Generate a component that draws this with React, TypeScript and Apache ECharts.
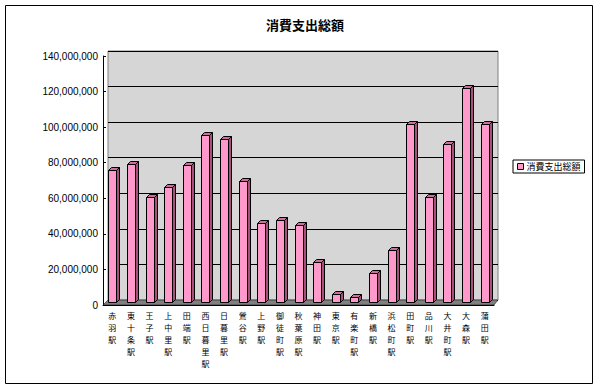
import React, { useEffect, useRef } from "react";
import * as echarts from "echarts";

const title = "消費支出総額";
const seriesName = "消費支出総額";
const categories = [
  "赤羽駅", "東十条駅", "王子駅", "上中里駅", "田端駅", "西日暮里駅", "日暮里駅",
  "鶯谷駅", "上野駅", "御徒町駅", "秋葉原駅", "神田駅", "東京駅", "有楽町駅",
  "新橋駅", "浜松町駅", "田町駅", "品川駅", "大井町駅", "大森駅", "蒲田駅",
];
const values = [
  76000000, 79000000, 60500000, 66500000, 78500000, 95500000, 93500000,
  69500000, 46000000, 48000000, 45000000, 24000000, 6000000, 4500000,
  18000000, 31000000, 102000000, 60500000, 90500000, 122000000, 102000000,
];
const yMin = 0;
const yMax = 140000000;
const yStep = 20000000;

export default function App() {
  const ref = useRef<HTMLDivElement>(null);
  useEffect(() => {
    if (!ref.current) return;
    const chart = echarts.init(ref.current, null, { renderer: "svg" });

    const front = "#ff99cc";
    const side = "#a8507c";
    const topc = "#cc6f9c";
    const w = 8;
    const d = 3;

    const fmt = (v: number) => v.toLocaleString("en-US");

    chart.setOption({
      animation: false,
      backgroundColor: "#ffffff",
      title: {
        text: title,
        left: 300,
        textAlign: "center",
        top: 13,
        textStyle: { fontSize: 13, fontWeight: "bold", color: "#000", fontFamily: "Noto Sans CJK JP" },
      },
      legend: {
        left: 513,
        top: 160,
        orient: "vertical",
        borderColor: "#000",
        borderWidth: 1,
        padding: [2, 4, 2, 4],
        itemWidth: 6,
        itemHeight: 6,
        itemGap: 2,
        textStyle: { fontSize: 9, color: "#000", fontFamily: "Noto Sans CJK JP", padding: [0, 0, 0, -2] },
        data: [{ name: seriesName, icon: "rect", itemStyle: { color: front, borderColor: "#000", borderWidth: 1 } }],
      },
      graphic: [
        {
          type: "rect",
          shape: { x: 5.5, y: 5.5, width: 587, height: 378 },
          style: { fill: "none", stroke: "#000", lineWidth: 1 },
          z: 100,
        },
        {
          type: "polygon",
          shape: { points: [[103, 305], [494, 305], [498, 300], [108, 300]] },
          style: { fill: "#808080", stroke: "#000", lineWidth: 0.5 },
          z: 1,
        },
      ],
      grid: [
        { left: 103, right: 105, top: 56, bottom: 83 },
        {
          left: 108, right: 101, top: 51, bottom: 88, show: true,
          backgroundColor: "#d6d6d6", borderColor: "#808080", borderWidth: 1,
        },
      ],
      xAxis: [
        {
          type: "category",
          gridIndex: 0,
          data: categories,
          axisLine: { show: true, lineStyle: { color: "#000", width: 1 } },
          axisTick: { show: false },
          axisLabel: {
            interval: 0,
            rotate: 0,
            margin: 4,
            color: "#000",
            fontSize: 8,
            lineHeight: 12,
            fontFamily: "Noto Sans CJK JP",
            formatter: (s: string) => s.split("").join("\n"),
          },
          z: 3,
        },
        {
          type: "category",
          gridIndex: 1,
          data: categories,
          show: false,
        },
      ],
      yAxis: [
        {
          type: "value",
          gridIndex: 0,
          min: yMin,
          max: yMax,
          interval: yStep,
          axisLine: { show: true, lineStyle: { color: "#000", width: 1 } },
          axisTick: { show: true, length: 3, inside: true, lineStyle: { color: "#000" } },
          splitLine: { show: false },
          axisLabel: {
            color: "#000",
            fontSize: 10,
            margin: 5,
            fontFamily: "Liberation Sans",
            formatter: (v: number) => fmt(v),
          },
        },
        {
          type: "value",
          gridIndex: 1,
          min: yMin,
          max: yMax,
          interval: yStep,
          axisLine: { show: false },
          axisTick: { show: false },
          axisLabel: { show: false },
          splitLine: { show: true, lineStyle: { color: "#000", width: 1 } },
        },
      ],
      series: [
        {
          type: "custom",
          name: seriesName,
          xAxisIndex: 0,
          yAxisIndex: 0,
          itemStyle: { color: front },
          encode: { x: 0, y: 1 },
          data: categories.map((c, i) => [i, values[i]]),
          z: 5,
          renderItem: (params: any, api: any) => {
            const idx = api.value(0);
            const v = api.value(1);
            const t = api.coord([idx, v]);
            const b = api.coord([idx, 0]);
            const x0 = Math.round(t[0] - w / 2) + 0.5;
            const x1 = x0 + w;
            const ty = Math.round(t[1]) + 0.5;
            const by = Math.round(b[1]) - 2.5;
            return {
              type: "group",
              children: [
                {
                  type: "polygon",
                  shape: { points: [[x1, ty], [x1 + d, ty - d], [x1 + d, by - d], [x1, by]] },
                  style: { fill: side, stroke: "#000", lineWidth: 1 },
                },
                {
                  type: "polygon",
                  shape: { points: [[x0, ty], [x0 + d, ty - d], [x1 + d, ty - d], [x1, ty]] },
                  style: { fill: topc, stroke: "#000", lineWidth: 1 },
                },
                {
                  type: "rect",
                  shape: { x: x0, y: ty, width: w, height: by - ty },
                  style: { fill: front, stroke: "#000", lineWidth: 1 },
                },
              ],
            };
          },
        },
      ],
    });
    return () => chart.dispose();
  }, []);
  return (
    <div
      ref={ref}
      style={{ position: "fixed", left: 0, top: 0, width: 599, height: 388 }}
    />
  );
}
